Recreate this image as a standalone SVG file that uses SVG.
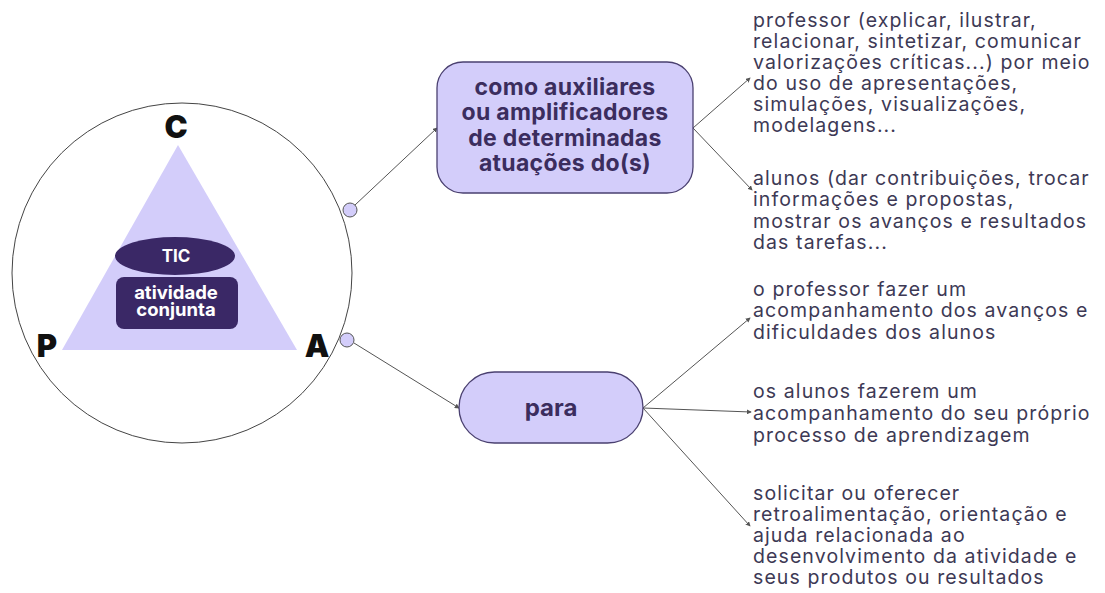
<svg xmlns="http://www.w3.org/2000/svg" width="1105" height="593" viewBox="0 0 1105 593">
<defs>
<style>
.t{font-family:Inter,"Liberation Sans",Arial,sans-serif;font-size:19.5px;letter-spacing:1.1px;fill:#3d3955}
.b{font-family:Inter,"Liberation Sans",Arial,sans-serif;font-weight:bold;fill:#3b2d5e;text-anchor:middle}
.w{font-family:Inter,"Liberation Sans",Arial,sans-serif;font-weight:bold;fill:#ffffff;text-anchor:middle}
.k{font-family:Inter,"Liberation Sans",Arial,sans-serif;font-weight:900;fill:#111;font-size:31px;text-anchor:middle}
.box{fill:#d3cdfa;stroke:#4a4070;stroke-width:1.3}
.c{stroke:#555;stroke-width:1;fill:none;marker-end:url(#ah)}
.dot{fill:#d3cdfa;stroke:#555;stroke-width:1}
</style>
<marker id="ah" viewBox="0 0 6 6" refX="5" refY="3" markerWidth="5" markerHeight="5" orient="auto">
<path d="M0,0 L6,3 L0,6 z" fill="#555"/>
</marker>
</defs>
<rect width="1105" height="593" fill="#ffffff"/>
<g id="triad">
<circle cx="182" cy="273" r="170" fill="none" stroke="#444" stroke-width="1"/>
<polygon points="178,145 62,350 297,350" fill="#d3cdfa"/>
<text class="k" x="176" y="138">C</text>
<text class="k" x="47" y="357">P</text>
<text class="k" x="317" y="357">A</text>
<ellipse cx="175" cy="256" rx="60" ry="19" fill="#3a2866"/>
<text class="w" x="176" y="262" font-size="17">TIC</text>
<rect x="116" y="277" width="122" height="52" rx="8" fill="#3a2866"/>
<text class="w" font-size="18.5"><tspan x="176" y="299">atividade</tspan><tspan x="176" y="316">conjunta</tspan></text>
<circle class="dot" cx="350" cy="210" r="7"/>
<circle class="dot" cx="347" cy="340" r="7"/>
</g>
<g id="connectors">
<line class="c" x1="355" y1="205" x2="437" y2="128"/>
<line class="c" x1="354" y1="343" x2="459" y2="408"/>
<line class="c" x1="693" y1="128" x2="750" y2="78"/>
<line class="c" x1="693" y1="128" x2="752" y2="190"/>
<line class="c" x1="643" y1="408" x2="750" y2="318"/>
<line class="c" x1="643" y1="408" x2="751" y2="412"/>
<line class="c" x1="643" y1="408" x2="750" y2="526"/>
</g>
<g id="node-como">
<rect class="box" x="437" y="62" width="256" height="131" rx="26"/>
<text class="b" font-size="23" letter-spacing="0.3"><tspan x="565" y="95">como auxiliares</tspan><tspan x="565" y="120">ou amplificadores</tspan><tspan x="565" y="146">de determinadas</tspan><tspan x="565" y="171">atuações do(s)</tspan></text>
</g>
<g id="node-para">
<rect class="box" x="459" y="372" width="184" height="71" rx="35.5"/>
<text class="b" x="551" y="416" font-size="24">para</text>
</g>
<g id="text-professor">
<text class="t"><tspan x="753" y="27">professor (explicar, ilustrar,</tspan><tspan x="753" y="48">relacionar, sintetizar, comunicar</tspan><tspan x="753" y="69">valorizações críticas...) por meio</tspan><tspan x="753" y="90">do uso de apresentações,</tspan><tspan x="753" y="111">simulações, visualizações,</tspan><tspan x="753" y="132">modelagens...</tspan></text>
</g>
<g id="text-alunos">
<text class="t"><tspan x="753" y="185">alunos (dar contribuições, trocar</tspan><tspan x="753" y="206">informações e propostas,</tspan><tspan x="753" y="228">mostrar os avanços e resultados</tspan><tspan x="753" y="249">das tarefas...</tspan></text>
</g>
<g id="text-acomp-prof">
<text class="t"><tspan x="753" y="296">o professor fazer um</tspan><tspan x="753" y="317">acompanhamento dos avanços e</tspan><tspan x="753" y="339">dificuldades dos alunos</tspan></text>
</g>
<g id="text-acomp-alunos">
<text class="t"><tspan x="753" y="398">os alunos fazerem um</tspan><tspan x="753" y="420">acompanhamento do seu próprio</tspan><tspan x="753" y="442">processo de aprendizagem</tspan></text>
</g>
<g id="text-solicitar">
<text class="t"><tspan x="753" y="500">solicitar ou oferecer</tspan><tspan x="753" y="521">retroalimentação, orientação e</tspan><tspan x="753" y="542">ajuda relacionada ao</tspan><tspan x="753" y="563">desenvolvimento da atividade e</tspan><tspan x="753" y="584">seus produtos ou resultados</tspan></text>
</g>
</svg>
